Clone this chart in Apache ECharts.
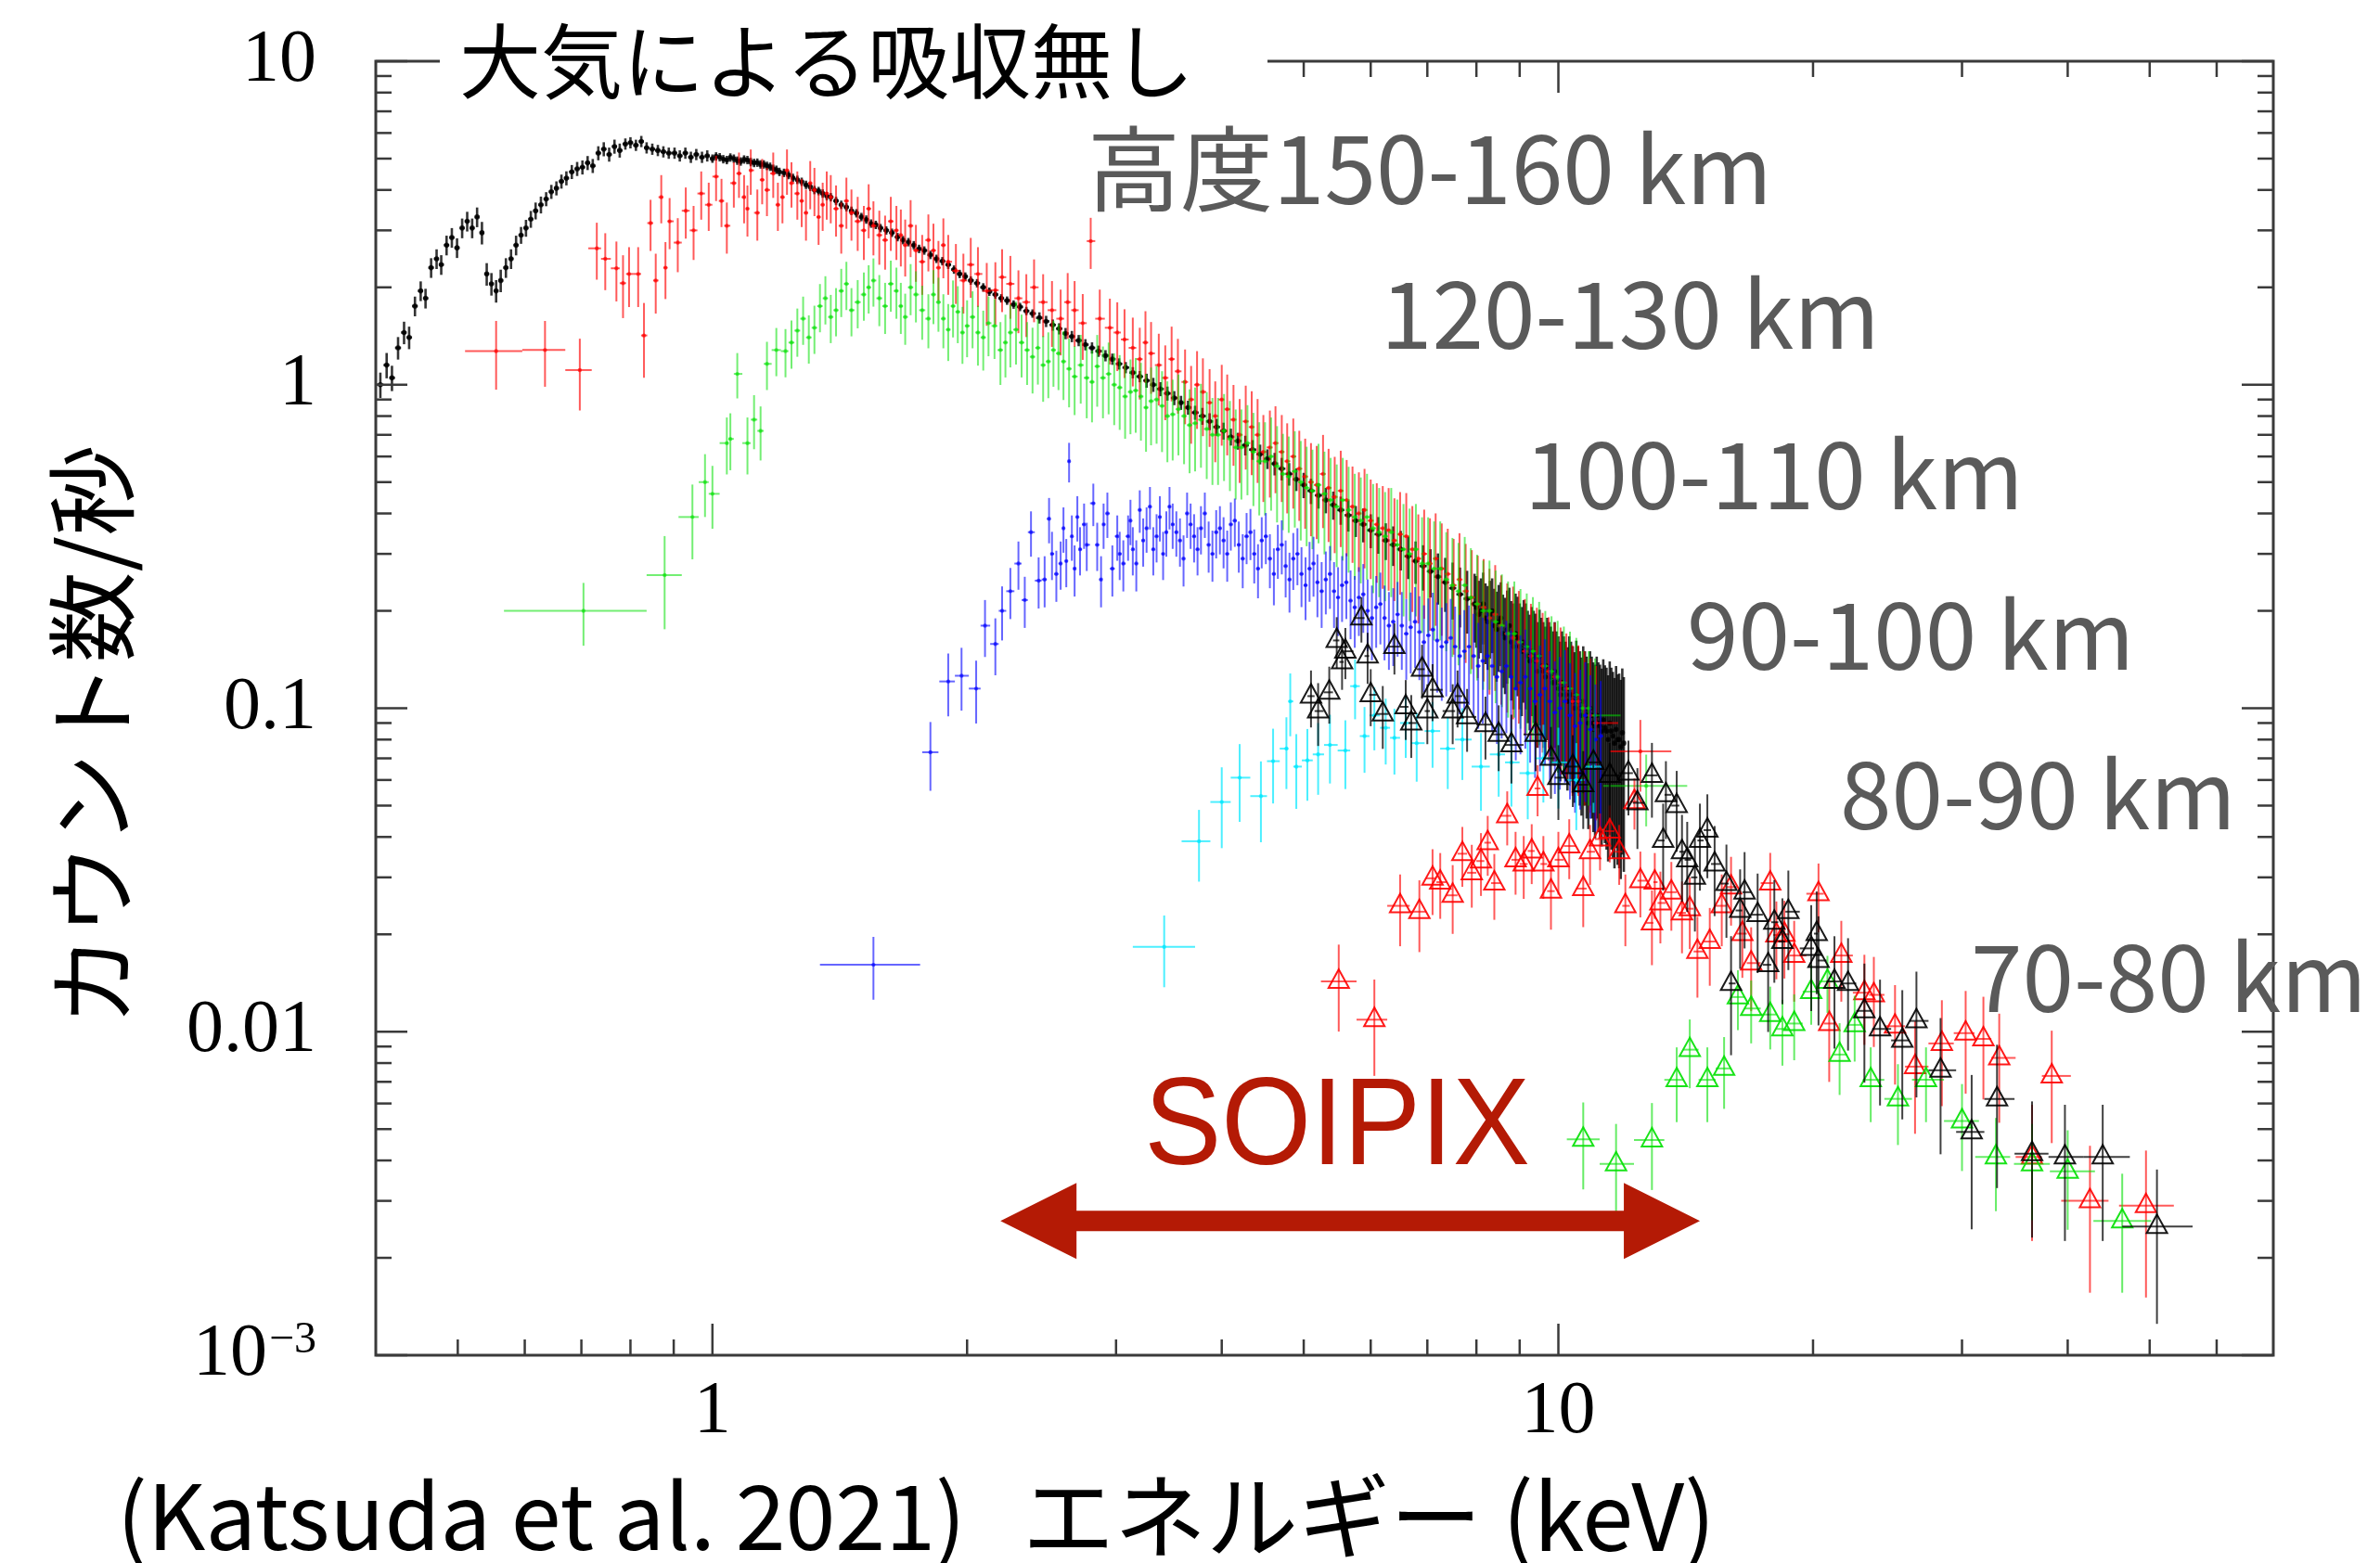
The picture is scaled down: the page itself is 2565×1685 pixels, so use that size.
<!DOCTYPE html>
<html><head><meta charset="utf-8">
<script src="https://cdn.jsdelivr.net/npm/echarts@6/dist/echarts.min.js"></script>
<style>html,body{margin:0;padding:0;background:#fff}#c{width:2565px;height:1685px}</style>
</head><body><div id="c"></div>
<script>
// ---------------- DATA: [energy keV, counts/s, error %] ----------------
// no atmospheric absorption (black crosses)
const noAbsLow = [[0.405,1.00,9],[0.412,1.15,9],[0.418,1.05,9],[0.425,1.30,8],[0.432,1.45,8],[0.438,1.40,8],[0.445,1.75,7],[0.452,1.95,7],[0.458,1.85,7],[0.465,2.30,7],[0.472,2.45,7],[0.478,2.35,7],[0.485,2.70,7],[0.492,2.85,7],[0.499,2.65,7],[0.506,3.05,7],[0.513,3.20,7],[0.520,3.05,7],[0.527,3.30,7],[0.534,2.95,8],[0.541,2.20,8],[0.548,2.05,8],[0.555,1.95,8],[0.562,2.10,8],[0.570,2.30,7],[0.578,2.45,7],[0.586,2.70,7],[0.594,2.90,6],[0.602,3.05,6],[0.610,3.25,6],[0.618,3.45,6],[0.627,3.60,6],[0.636,3.75,5],[0.645,3.95,5],[0.654,4.05,5],[0.663,4.25,5],[0.672,4.35,5],[0.682,4.55,5],[0.692,4.65,5],[0.702,4.70,5],[0.712,4.85,5],[0.722,4.75,5],[0.733,5.20,5],[0.744,5.35,5],[0.755,5.15,5],[0.766,5.45,5],[0.777,5.30,5],[0.789,5.55,4],[0.800,5.60,4],[0.812,5.50,4],[0.824,5.65,4],[0.836,5.40,4],[0.849,5.35,4],[0.862,5.30,4],[0.875,5.25,4],[0.888,5.20,4],[0.902,5.20,4],[0.915,5.10,4],[0.929,5.20,4],[0.943,5.05,4],[0.957,5.15,4],[0.972,5.05,4],[0.986,5.10,4]];
const noAbsMid = [[1.00,5.00,3],[1.01,5.08,3],[1.02,5.05,3],[1.03,4.98,3],[1.04,4.95,3],[1.05,5.04,3],[1.06,5.00,3],[1.07,4.93,3],[1.08,4.90,3],[1.09,4.97,3],[1.10,4.95,3],[1.11,4.88,3],[1.12,4.85,3],[1.13,4.86,3],[1.14,4.80,3],[1.15,4.80,3],[1.16,4.75,3],[1.17,4.72,3],[1.18,4.65,3],[1.19,4.62,3],[1.20,4.55,3],[1.215,4.52,3],[1.23,4.45,3],[1.245,4.36,3],[1.26,4.30,3],[1.275,4.24,3],[1.29,4.15,3],[1.305,4.09,3],[1.32,4.00,3],[1.335,3.97,3],[1.35,3.90,3],[1.365,3.83,3],[1.38,3.80,3],[1.40,3.70,3],[1.42,3.60,3],[1.44,3.54,3],[1.46,3.45,3],[1.48,3.39,3],[1.50,3.30,3],[1.52,3.24,3],[1.54,3.15,3],[1.56,3.12,3],[1.58,3.05,3],[1.605,3.00,3],[1.63,2.95,3],[1.655,2.86,3],[1.68,2.80,3],[1.705,2.76,3],[1.73,2.70,3],[1.755,2.63,3],[1.78,2.60,3],[1.81,2.52,3],[1.84,2.45,3],[1.87,2.41,3],[1.90,2.35,3],[1.93,2.27,3],[1.96,2.20,3],[1.99,2.16,3],[2.02,2.10,3],[2.055,2.06,3],[2.09,2.00,3],[2.125,1.94,3],[2.16,1.90,3],[2.195,1.85,3],[2.23,1.82,3],[2.27,1.77,3],[2.31,1.74,3],[2.35,1.69,3],[2.39,1.66,3],[2.435,1.61,4],[2.48,1.57,4],[2.525,1.53,4],[2.57,1.49,4],[2.615,1.44,4],[2.66,1.41,4],[2.71,1.37,4],[2.76,1.33,4],[2.81,1.30,4],[2.86,1.27,4],[2.915,1.23,4],[2.97,1.20,4],[3.025,1.16,4],[3.08,1.13,4],[3.14,1.09,4],[3.20,1.06,4],[3.26,1.03,5],[3.32,1.00,5],[3.385,0.97,5],[3.45,0.94,5],[3.515,0.91,5],[3.58,0.88,5],[3.65,0.85,5],[3.72,0.82,5],[3.795,0.80,6],[3.87,0.77,6],[3.945,0.74,6],[4.02,0.72,6],[4.10,0.69,6],[4.18,0.67,6],[4.265,0.65,7],[4.35,0.63,7],[4.44,0.61,7],[4.53,0.59,7],[4.62,0.57,8],[4.71,0.55,8],[4.805,0.53,8],[4.90,0.51,8],[5.00,0.49,9],[5.10,0.47,9],[5.205,0.455,9],[5.31,0.44,9],[5.42,0.425,10],[5.53,0.41,10],[5.645,0.395,11],[5.76,0.38,11],[5.88,0.37,12],[6.00,0.355,12],[6.125,0.345,13],[6.25,0.33,13],[6.38,0.32,14],[6.51,0.31,14],[6.645,0.295,15],[6.78,0.285,15],[6.92,0.275,16],[7.06,0.265,17],[7.205,0.255,18],[7.35,0.245,19],[7.50,0.235,20],[7.65,0.225,21],[7.80,0.218,22],[7.96,0.21,24]];
const noAbsHigh = [[8.00,0.205,25],[8.05,0.195,27],[8.10,0.20,26],[8.15,0.21,25],[8.20,0.19,28],[8.25,0.185,29],[8.30,0.195,27],[8.35,0.20,26],[8.40,0.18,30],[8.45,0.175,31],[8.50,0.185,30],[8.55,0.19,29],[8.60,0.17,32],[8.65,0.165,33],[8.70,0.175,32],[8.75,0.18,31],[8.80,0.16,34],[8.85,0.155,36],[8.90,0.17,33],[8.95,0.165,34],[9.00,0.155,36],[9.05,0.15,37],[9.10,0.16,35],[9.15,0.155,36],[9.20,0.145,38],[9.25,0.14,39],[9.30,0.15,37],[9.35,0.145,38],[9.40,0.14,40],[9.45,0.13,42],[9.50,0.145,39],[9.55,0.135,41],[9.60,0.13,42],[9.65,0.125,43],[9.70,0.135,41],[9.75,0.13,42],[9.80,0.125,43],[9.85,0.12,44],[9.90,0.13,42],[9.95,0.12,44],[10.0,0.115,45],[10.05,0.11,46],[10.1,0.12,44],[10.15,0.115,45],[10.2,0.11,46],[10.25,0.105,47],[10.3,0.115,45],[10.35,0.11,46],[10.4,0.105,48],[10.45,0.10,49],[10.5,0.11,47],[10.55,0.105,48],[10.6,0.10,50],[10.65,0.095,51],[10.7,0.105,48],[10.75,0.10,50],[10.8,0.095,52],[10.85,0.09,53],[10.9,0.10,50],[10.95,0.095,52],[11.0,0.09,54],[11.05,0.088,55],[11.1,0.095,52],[11.15,0.09,54],[11.2,0.088,55],[11.25,0.085,56],[11.3,0.092,54],[11.35,0.087,56],[11.4,0.085,57],[11.45,0.08,58],[11.5,0.09,55],[11.55,0.085,57],[11.6,0.082,58],[11.65,0.078,59],[11.7,0.086,57],[11.75,0.08,59],[11.8,0.08,60],[11.85,0.076,61],[11.9,0.084,58],[11.95,0.078,60]];

// 150-160 km (red crosses)
const alt150 = [[0.555,1.27,24],[0.634,1.28,23],[0.697,1.11,25],[0.730,2.64,20],[0.747,2.45,20],[0.770,2.29,21],[0.784,2.06,22],[0.797,2.20,21],[0.817,2.20,21],[0.830,1.42,26],[0.845,3.16,18],[0.857,2.10,21],[0.870,3.80,17],[0.880,2.30,20],[0.890,3.20,18],[0.910,2.75,19],[0.930,3.45,18],[0.950,3.00,19],[0.970,3.90,17],[0.990,3.60,17],[1.01,4.40,16],[1.04,3.10,18],[1.06,4.20,16],[1.09,3.80,17],[1.11,4.60,16],[1.13,3.40,18],[1.16,4.00,17],[1.18,4.50,16],[1.21,3.80,17],[1.24,4.20,16],[1.26,3.90,17],[1.29,3.40,18],[1.32,4.00,17],[1.35,3.60,17],[1.38,3.80,17],[1.42,3.10,18],[1.46,3.40,18],[1.51,3.00,19],[1.55,3.10,19],[1.60,2.80,19],[1.65,3.00,19],[1.69,2.70,20],[1.74,2.60,20],[1.80,2.80,20],[1.85,2.30,21],[1.90,2.40,21],[1.98,2.10,21],[2.06,2.20,21],[2.16,1.96,22],[2.25,2.05,22],[2.35,1.80,22],[2.46,1.80,22],[2.58,1.60,23],[2.68,1.70,23],[2.80,2.78,18],[2.95,1.50,23],[3.07,1.38,24],[3.20,1.20,25],[3.30,1.25,25],[3.43,1.05,26],[3.55,1.10,26],[3.68,0.90,27],[3.80,0.95,27],[3.93,0.80,28],[4.06,0.84,28],[4.20,0.70,29],[4.34,0.74,29],[4.48,0.62,30],[4.63,0.66,30],[4.78,0.58,31],[4.94,0.55,31],[5.10,0.50,32],[5.27,0.53,32],[5.44,0.45,33],[5.62,0.44,33],[5.81,0.40,34],[6.00,0.38,34],[6.20,0.36,35],[6.40,0.33,35],[6.61,0.34,36],[6.83,0.29,37],[7.05,0.28,38],[7.28,0.27,38],[7.52,0.24,39],[7.77,0.23,40],[8.03,0.21,41],[8.29,0.19,42],[8.56,0.18,43],[8.84,0.165,44],[9.13,0.15,45],[9.43,0.14,46],[9.74,0.13,47],[10.06,0.12,48],[10.39,0.105,49],[10.73,0.10,50],[11.08,0.09,50],[12.50,0.0736,25]];
const alt150More = [[1.025,3.70,17],[1.075,4.50,16],[1.10,3.50,18],[1.145,4.30,16],[1.195,3.60,17],[1.225,4.60,16],[1.275,3.70,17],[1.305,4.20,17],[1.335,3.30,18],[1.365,3.90,17],[1.40,3.50,18],[1.44,3.70,18],[1.485,3.20,19],[1.53,3.50,19],[1.575,2.90,19],[1.625,3.20,19],[1.67,2.90,20],[1.715,3.10,20],[1.77,2.40,21],[1.825,2.60,21],[1.875,2.70,21],[1.94,2.25,21],[2.02,2.35,21],[2.11,1.95,22],[2.20,2.15,22],[2.30,1.85,22],[2.40,2.00,22],[2.52,1.70,23],[2.63,1.80,23],[2.74,1.55,23],[2.87,1.60,23],[3.01,1.45,24],[3.14,1.30,24],[3.25,1.35,25],[3.37,1.15,25],[3.49,1.20,26],[3.62,1.02,26],[3.74,1.00,27],[3.87,0.88,27],[4.00,0.90,28],[4.13,0.78,28],[4.27,0.77,29],[4.41,0.70,29],[4.56,0.64,30],[4.71,0.62,30],[4.86,0.60,31],[5.02,0.52,31],[5.18,0.49,32],[5.35,0.48,32],[5.53,0.47,33],[5.71,0.42,33],[5.90,0.41,34],[6.10,0.37,34],[6.30,0.355,35],[6.50,0.345,35],[6.72,0.31,36],[6.94,0.30,37],[7.16,0.29,38],[7.40,0.26,38],[7.64,0.25,39],[7.90,0.22,40],[8.16,0.205,41],[8.42,0.195,42],[8.70,0.17,43],[8.98,0.16,44],[9.28,0.145,45],[9.58,0.135,46],[9.90,0.125,47],[10.22,0.115,48],[10.56,0.105,49],[10.90,0.095,50]];

// 120-130 km (green crosses)
const alt120 = [[0.704,0.20,22],[0.878,0.258,32],[0.947,0.39,26],[0.980,0.50,22],[1.00,0.46,22],[1.04,0.66,20],[1.05,0.68,20],[1.07,1.08,16],[1.10,0.66,20],[1.12,0.78,19],[1.14,0.72,19],[1.16,1.16,17],[1.19,1.28,17],[1.22,1.27,17],[1.26,1.47,17],[1.30,1.40,17],[1.34,1.75,17],[1.38,1.62,17],[1.42,1.95,17],[1.46,1.70,17],[1.51,1.90,17],[1.55,2.10,17],[1.60,1.75,18],[1.65,1.95,18],[1.69,1.62,18],[1.74,1.90,18],[1.80,1.60,19],[1.85,1.80,19],[1.90,1.48,20],[1.95,1.68,20],[2.00,1.52,20],[2.06,1.45,21],[2.12,1.55,21],[2.19,1.28,22],[2.25,1.45,22],[2.32,1.35,22],[2.39,1.22,23],[2.46,1.15,23],[2.53,1.28,23],[2.60,1.18,24],[2.68,1.06,24],[2.77,1.05,25],[2.85,1.14,25],[2.94,1.08,25],[3.03,0.98,26],[3.12,0.95,26],[3.21,0.92,27],[3.30,0.89,27],[3.40,0.86,28],[3.50,0.81,28],[3.61,0.80,29],[3.72,0.76,29],[3.84,0.73,30],[3.96,0.70,30],[4.09,0.68,31],[4.22,0.64,31],[4.36,0.62,32],[4.50,0.58,32],[4.65,0.56,33],[4.80,0.52,33],[4.96,0.50,34],[5.12,0.47,34],[5.29,0.46,35],[5.47,0.42,35],[5.65,0.41,36],[5.84,0.38,36],[6.04,0.36,37],[6.24,0.34,37],[6.45,0.32,38],[6.67,0.30,38],[6.90,0.28,39],[7.13,0.27,40],[7.37,0.25,40],[7.62,0.23,41],[7.88,0.22,42],[8.15,0.20,43],[8.43,0.185,44],[8.72,0.17,45],[9.02,0.16,46],[9.33,0.15,47],[9.65,0.135,48],[9.98,0.125,49],[10.32,0.115,50],[10.68,0.10,50],[11.05,0.095,50],[12.70,0.0575,25]];
const alt120More = [[1.24,1.35,17],[1.28,1.60,17],[1.32,1.50,17],[1.36,1.85,17],[1.40,1.70,17],[1.44,2.05,17],[1.485,1.80,17],[1.53,2.00,17],[1.575,1.85,18],[1.625,2.05,18],[1.67,1.75,18],[1.715,2.00,18],[1.77,1.70,19],[1.825,1.90,19],[1.875,1.60,19],[1.925,1.75,20],[1.975,1.45,20],[2.03,1.62,20],[2.09,1.40,21],[2.155,1.52,21],[2.22,1.35,22],[2.285,1.48,22],[2.355,1.28,22],[2.425,1.30,23],[2.495,1.18,23],[2.565,1.25,23],[2.64,1.12,24],[2.725,1.15,24],[2.81,1.02,25],[2.895,1.05,25],[2.985,1.00,25],[3.075,0.92,26],[3.165,0.96,26],[3.255,0.85,27],[3.35,0.90,27],[3.45,0.80,28],[3.555,0.84,28],[3.665,0.75,29],[3.78,0.78,29],[3.90,0.70,30],[4.025,0.72,30],[4.155,0.64,31],[4.29,0.66,31],[4.43,0.58,32],[4.575,0.60,32],[4.725,0.53,33],[4.88,0.54,33],[5.04,0.48,34],[5.205,0.49,34],[5.38,0.44,35],[5.56,0.44,35],[5.745,0.39,36],[5.94,0.39,36],[6.14,0.35,37],[6.345,0.35,37],[6.56,0.31,38],[6.785,0.31,38],[7.015,0.28,39],[7.25,0.27,40],[7.495,0.24,40],[7.75,0.24,41],[8.015,0.21,42],[8.29,0.20,43],[8.575,0.18,44],[8.87,0.17,45],[9.175,0.155,46],[9.49,0.145,47],[9.815,0.13,48],[10.15,0.12,49],[10.5,0.11,50],[10.86,0.10,50]];

// 100-110 km (blue crosses)
const alt100 = [[1.55,0.0161,22],[1.81,0.0731,24],[1.90,0.121,22],[1.97,0.126,22],[2.05,0.115,22],[2.10,0.180,20],[2.16,0.158,20],[2.20,0.200,19],[2.25,0.230,18],[2.30,0.280,17],[2.34,0.216,18],[2.38,0.350,16],[2.43,0.248,18],[2.47,0.250,18],[2.50,0.385,16],[2.55,0.260,18],[2.58,0.280,17],[2.62,0.285,17],[2.64,0.580,14],[2.66,0.340,16],[2.70,0.390,16],[2.72,0.310,17],[2.77,0.320,17],[2.82,0.430,15],[2.88,0.250,18],[2.90,0.370,16],[2.97,0.270,18],[3.01,0.340,16],[3.06,0.280,18],[3.10,0.340,16],[3.14,0.310,17],[3.20,0.410,15],[3.26,0.360,16],[3.32,0.310,17],[3.38,0.390,16],[3.44,0.350,16],[3.50,0.370,16],[3.57,0.330,17],[3.64,0.400,16],[3.71,0.340,17],[3.78,0.360,17],[3.86,0.320,18],[3.94,0.350,17],[4.02,0.330,18],[4.10,0.370,17],[4.19,0.320,18],[4.28,0.340,18],[4.37,0.300,19],[4.46,0.330,18],[4.56,0.290,19],[4.66,0.310,19],[4.76,0.275,20],[4.86,0.290,20],[4.97,0.260,21],[5.08,0.270,21],[5.19,0.245,22],[5.31,0.250,22],[5.43,0.230,23],[5.55,0.240,23],[5.68,0.215,24],[5.81,0.220,24],[5.95,0.200,25],[6.09,0.205,25],[6.23,0.190,26],[6.38,0.185,27],[6.53,0.180,27],[6.69,0.178,28],[6.85,0.172,29],[7.02,0.168,30],[7.19,0.162,31],[7.37,0.160,32],[7.55,0.155,33],[7.74,0.150,34],[7.94,0.145,35],[8.14,0.140,36],[8.35,0.135,37],[8.57,0.130,38],[8.79,0.125,39],[9.02,0.120,40],[9.26,0.115,41],[9.51,0.110,42],[9.77,0.105,43],[10.04,0.100,44],[10.32,0.095,45],[10.61,0.090,46],[10.91,0.086,47],[11.22,0.082,48]];
const alt100More = [[2.52,0.30,17],[2.60,0.36,16],[2.68,0.27,18],[2.75,0.37,16],[2.85,0.32,17],[2.93,0.40,16],[3.03,0.30,17],[3.12,0.38,16],[3.17,0.28,18],[3.23,0.33,17],[3.29,0.42,15],[3.35,0.34,17],[3.41,0.30,17],[3.47,0.42,15],[3.535,0.35,16],[3.605,0.29,18],[3.675,0.37,16],[3.745,0.31,17],[3.82,0.40,16],[3.90,0.30,18],[3.98,0.36,17],[4.06,0.30,18],[4.145,0.38,17],[4.235,0.29,19],[4.325,0.35,18],[4.415,0.27,19],[4.51,0.34,18],[4.61,0.26,20],[4.71,0.32,19],[4.81,0.25,21],[4.915,0.30,20],[5.025,0.24,22],[5.135,0.28,21],[5.25,0.23,23],[5.37,0.26,22],[5.49,0.22,24],[5.615,0.245,23],[5.745,0.205,25],[5.88,0.225,24],[6.02,0.19,26],[6.16,0.21,25],[6.305,0.18,27],[6.455,0.195,26],[6.61,0.17,28],[6.77,0.185,28],[6.935,0.16,30],[7.105,0.175,30],[7.28,0.155,32],[7.46,0.165,32],[7.645,0.145,34],[7.84,0.155,34],[8.04,0.135,36],[8.245,0.145,36],[8.46,0.125,38],[8.68,0.135,38],[8.905,0.115,40],[9.14,0.125,40],[9.385,0.105,42],[9.64,0.115,42],[9.905,0.097,44],[10.18,0.105,44],[10.465,0.088,46],[10.76,0.095,46],[11.06,0.08,48]];

// 90-100 km (cyan crosses)
const alt90 = [[3.42,0.0183,25],[3.76,0.0388,25],[4.00,0.0513,28],[4.20,0.0610,27],[4.45,0.0535,28],[4.60,0.0686,26],[4.77,0.0750,25],[4.82,0.105,22],[4.90,0.0660,26],[5.05,0.0690,25],[5.20,0.0720,25],[5.37,0.0770,24],[5.60,0.0740,24],[5.75,0.117,21],[5.90,0.082,23],[6.06,0.095,22],[6.25,0.087,23],[6.40,0.081,23],[6.60,0.090,22],[6.80,0.078,24],[7.10,0.085,23],[7.40,0.075,25],[7.70,0.080,25],[8.10,0.066,27],[8.50,0.072,26],[8.80,0.068,27],[9.20,0.063,28],[9.60,0.070,27],[10.0,0.068,28],[10.5,0.060,30],[11.0,0.066,28]];

// 80-90 km (black triangles)
const alt80 = [[5.10,0.109,20],[5.20,0.098,22],[5.36,0.112,20],[5.47,0.162,18],[5.55,0.139,18],[5.60,0.150,18],[5.85,0.190,16],[5.95,0.145,18],[6.00,0.110,20],[6.20,0.096,22],[6.40,0.155,18],[6.60,0.101,21],[6.70,0.090,22],[6.90,0.132,19],[7.00,0.098,21],[7.10,0.114,20],[7.50,0.098,21],[7.60,0.109,20],[7.80,0.094,22],[8.20,0.089,22],[8.50,0.083,23],[8.80,0.077,24],[9.40,0.083,23],[9.80,0.070,25],[10.0,0.061,26],[10.4,0.066,25],[10.7,0.058,27],[11.0,0.068,25],[11.5,0.062,26],[12.1,0.063,26],[12.4,0.051,28],[12.9,0.062,26],[13.3,0.039,30],[13.4,0.054,27],[13.8,0.050,28],[14.0,0.036,30],[14.2,0.034,31],[14.5,0.030,32],[14.7,0.039,30],[15.0,0.042,29],[15.3,0.033,31],[15.8,0.0287,32],[16.0,0.0141,40],[16.4,0.0237,34],[16.6,0.027,33],[17.2,0.023,34],[17.7,0.0161,38],[18.0,0.0218,35],[18.4,0.019,36],[18.7,0.0235,34],[19.9,0.0181,36],[20.2,0.0201,35],[20.3,0.0166,37],[21.2,0.0143,38],[22.0,0.0141,38],[23.0,0.0116,40],[24.0,0.0102,42],[25.5,0.0094,43],[26.5,0.0108,42],[28.3,0.0076,45],[30.8,0.0049,50],[33.0,0.0062,47],[36.3,0.0042,45],[39.7,0.0041,45],[44.0,0.0041,45],[51.0,0.0025,50]];

// 70-80 km (red triangles)
const alt70 = [[5.50,0.0143,30],[6.06,0.0109,33],[6.50,0.0245,25],[6.85,0.0235,25],[7.10,0.0298,23],[7.25,0.0290,23],[7.50,0.0264,24],[7.70,0.0355,21],[7.90,0.0310,22],[8.10,0.0337,22],[8.25,0.0384,21],[8.40,0.0288,23],[8.70,0.0465,19],[8.90,0.0340,22],[9.10,0.0330,22],[9.30,0.0362,21],[9.45,0.0565,18],[9.60,0.0330,22],[9.80,0.0272,24],[10.0,0.0340,22],[10.3,0.0375,21],[10.7,0.0277,24],[10.9,0.0360,21],[11.2,0.0394,20],[11.5,0.0417,20],[11.8,0.0360,21],[12.0,0.0245,25],[12.3,0.0514,18],[12.5,0.0293,23],[12.9,0.0217,26],[13.0,0.0290,23],[13.2,0.0250,25],[13.6,0.0270,24],[14.0,0.0233,25],[14.3,0.0240,25],[14.6,0.0177,28],[15.1,0.0190,27],[15.6,0.0245,25],[16.0,0.0280,24],[16.5,0.0201,27],[16.9,0.0163,29],[17.8,0.0288,24],[18.1,0.0199,27],[18.5,0.0200,27],[19.0,0.0172,28],[20.3,0.0267,24],[20.9,0.0106,34],[21.6,0.0172,28],[23.0,0.0132,31],[23.6,0.0130,31],[25.0,0.0104,34],[26.4,0.0078,38],[28.4,0.0092,36],[30.3,0.0099,35],[31.8,0.0095,35],[33.2,0.0083,37],[36.3,0.0041,45],[38.3,0.0073,38],[42.5,0.0030,48],[49.5,0.0029,48]];

// lowest layer (green triangles)
const greenTri = [[10.7,0.00465,30],[11.7,0.0039,33],[12.9,0.00463,30],[13.8,0.0071,26],[14.3,0.0088,24],[15.0,0.0071,26],[15.7,0.0077,25],[16.3,0.0128,21],[16.9,0.0118,22],[17.8,0.0113,22],[18.4,0.0102,23],[19.0,0.0106,23],[19.9,0.0133,21],[20.8,0.0143,20],[21.5,0.0085,25],[22.4,0.0105,23],[23.4,0.0071,26],[25.2,0.0062,28],[27.2,0.0071,26],[30.0,0.0053,30],[32.9,0.0041,32],[36.3,0.0039,33],[40.0,0.0037,34],[46.4,0.0026,40]];

// explicit energy bins (keV) for the isolated wide-bin points
const alt150Bins = {0.555:[0.51,0.596], 0.634:[0.596,0.67], 0.697:[0.67,0.72], 12.5:[11.5,13.6]};
const alt120Bins = {0.704:[0.567,0.836], 0.878:[0.836,0.92], 12.7:[11.3,14.2]};
const alt100Bins = {1.55:[1.34,1.76], 1.81:[1.77,1.85]};
const alt90Bins = {3.42:[3.14,3.72]};
const alt80Bins = {51:[46.4,56.2]};
const alt70Bins = {42.5:[39.3,44.7], 49.5:[46,53.4]};
const greenTriBins = {32.9:[31.1,34.2], 46.4:[42.9,50.2]};

// axis ticks / labels
const xMajorTicks = [1, 10];
const xMinorTicks = [0.5,0.6,0.7,0.8,0.9,2,3,4,5,6,7,8,9,20,30,40,50,60];
const xTickLabels = ['1', '10'];
const yMajorTicks = [0.001, 0.01, 0.1, 1, 10];
const yMinorTicks = [0.002,0.003,0.004,0.005,0.006,0.007,0.008,0.009,0.02,0.03,0.04,0.05,0.06,0.07,0.08,0.09,0.2,0.3,0.4,0.5,0.6,0.7,0.8,0.9,2,3,4,5,6,7,8,9];
const yTickLabels = ['10{sup|\u22123}', '0.01', '0.1', '1', '10'];

// annotations
const soipixRange = [2.19, 14.7];
const soipixLevel = 0.0026;
const titleText = '大気による吸収無し';
const altitudeLabels = ['高度150-160 km', '120-130 km', '100-110 km', '90-100 km', '80-90 km', '70-80 km'];
const xAxisTitle = 'エネルギー (keV)';
const creditText = '(Katsuda et al. 2021)';
const yAxisTitle = 'カウント数/秒';
const soipixText = 'SOIPIX';

// ---------------- build ----------------
function merged() {
  const all = [];
  for (let i = 0; i < arguments.length; i++) all.push.apply(all, arguments[i]);
  return all.sort((a, b) => a[0] - b[0]);
}

function buildItems(points, bins) {
  const out = [];
  for (let i = 0; i < points.length; i++) {
    const e = points[i][0], c = points[i][1], pct = points[i][2];
    let lo, hi;
    const b = bins && bins[e];
    if (b) { lo = b[0]; hi = b[1]; }
    else {
      const prev = i > 0 ? points[i - 1][0] : null;
      const next = i < points.length - 1 ? points[i + 1][0] : null;
      hi = next ? Math.sqrt(e * next) : e * e / Math.sqrt(prev * e);
      lo = prev ? Math.sqrt(prev * e) : e * e / Math.sqrt(e * next);
    }
    const d = c * pct / 100;
    out.push([e, c, lo, hi, c - d, c + d]);
  }
  return out;
}

function errSeries(name, points, bins, color, marker, opacity, lw, dot) {
  return {
    type: 'custom', name: name, clip: true, silent: true,
    dimensions: ['e', 'c', 'elo', 'ehi', 'clo', 'chi'],
    encode: { x: 0, y: 1 },
    data: buildItems(points, bins),
    renderItem: function (params, api) {
      const e = api.value(0), c = api.value(1);
      const p = api.coord([e, c]);
      const l = api.coord([api.value(2), c]);
      const r = api.coord([api.value(3), c]);
      const lo = api.coord([e, api.value(4)]);
      const hi = api.coord([e, api.value(5)]);
      const ch = [
        { type: 'line', shape: { x1: l[0], y1: p[1], x2: r[0], y2: p[1] }, style: { stroke: color, lineWidth: lw, opacity: opacity } },
        { type: 'line', shape: { x1: p[0], y1: lo[1], x2: p[0], y2: hi[1] }, style: { stroke: color, lineWidth: lw, opacity: opacity } }
      ];
      if (marker === 'tri') {
        ch.push({ type: 'polygon', shape: { points: [[p[0], p[1] - 13], [p[0] - 11, p[1] + 7], [p[0] + 11, p[1] + 7]] }, style: { fill: 'none', stroke: color, lineWidth: 2, opacity: 0.9 } });
      } else {
        ch.push({ type: 'circle', shape: { cx: p[0], cy: p[1], r: dot }, style: { fill: color, opacity: opacity } });
      }
      return { type: 'group', children: ch };
    }
  };
}

const TICK = '#3a3a3a';
function tickSeries(values, major, isX) {
  return {
    type: 'custom', silent: true, clip: false, z: 5,
    encode: { x: 0, y: 1 },
    data: values.map(v => isX ? [v, 1] : [1, v]),
    renderItem: function (params, api) {
      const cs = params.coordSys;
      const len = major ? 34 : 17;
      const st = { stroke: TICK, lineWidth: 2.5 };
      if (isX) {
        const x = api.coord([api.value(0), 1])[0];
        return { type: 'group', children: [
          { type: 'line', shape: { x1: x, y1: cs.y + cs.height, x2: x, y2: cs.y + cs.height - len }, style: st },
          { type: 'line', shape: { x1: x, y1: cs.y, x2: x, y2: cs.y + len }, style: st }
        ] };
      }
      const y = api.coord([1, api.value(1)])[1];
      return { type: 'group', children: [
        { type: 'line', shape: { x1: cs.x, y1: y, x2: cs.x + len, y2: y }, style: st },
        { type: 'line', shape: { x1: cs.x + cs.width, y1: y, x2: cs.x + cs.width - len, y2: y }, style: st }
      ] };
    }
  };
}

const arrowSeries = {
  type: 'custom', silent: true, clip: false, z: 6,
  encode: { x: 0, y: 2 },
  data: [[soipixRange[0], soipixRange[1], soipixLevel]],
  renderItem: function (params, api) {
    const a = api.coord([api.value(0), api.value(2)]);
    const b = api.coord([api.value(1), api.value(2)]);
    const y = a[1], hl = 82, hh = 41, sh = 11;
    return { type: 'polygon', shape: { points: [
      [a[0], y], [a[0] + hl, y - hh], [a[0] + hl, y - sh], [b[0] - hl, y - sh], [b[0] - hl, y - hh], [b[0], y],
      [b[0] - hl, y + hh], [b[0] - hl, y + sh], [a[0] + hl, y + sh], [a[0] + hl, y + hh]
    ] }, style: { fill: '#b41a05' } };
  }
};

function isPow(v, target) { return Math.abs(Math.log10(v) - Math.log10(target)) < 1e-6; }

const SERIF = '"Liberation Serif", "Times New Roman", serif';
const SANS = '"Noto Sans CJK JP", "Noto Sans", sans-serif';
function label(text, x, y, size, fill, align) {
  return { type: 'text', z: 51, x: x, y: y, style: { text: text, font: size + 'px ' + SANS, fill: fill, align: align, verticalAlign: 'middle', textAlign: align, textVerticalAlign: 'middle' } };
}

const option = {
  animation: false,
  backgroundColor: '#ffffff',
  grid: { left: 405, top: 66, width: 2045, height: 1395, show: true, borderColor: '#3a3a3a', borderWidth: 3, backgroundColor: 'transparent' },
  xAxis: {
    type: 'log', logBase: 10, min: 0.4, max: 70,
    axisLine: { show: false }, axisTick: { show: false }, splitLine: { show: false },
    axisLabel: {
      margin: 22, fontFamily: SERIF, fontSize: 80, color: '#000',
      formatter: function (v) {
        for (let i = 0; i < xMajorTicks.length; i++) if (isPow(v, xMajorTicks[i])) return xTickLabels[i];
        return '';
      }
    }
  },
  yAxis: {
    type: 'log', logBase: 10, min: 0.001, max: 10,
    axisLine: { show: false }, axisTick: { show: false }, splitLine: { show: false },
    axisLabel: {
      margin: 64, fontFamily: SERIF, fontSize: 80, color: '#000',
      rich: { sup: { fontFamily: SERIF, fontSize: 48, color: '#000', verticalAlign: 'top', padding: [0, 0, 0, 2] } },
      formatter: function (v) {
        for (let i = 0; i < yMajorTicks.length; i++) if (isPow(v, yMajorTicks[i])) return yTickLabels[i];
        return '';
      }
    }
  },
  series: [
    errSeries('no absorption', merged(noAbsLow, noAbsMid, noAbsHigh), null, '#000000', 'dot', 0.8, 2.6, 2.8),
    errSeries('150-160 km', merged(alt150, alt150More), alt150Bins, '#ff0000', 'dot', 0.65, 2, 2.2),
    errSeries('120-130 km', merged(alt120, alt120More), alt120Bins, '#00e000', 'dot', 0.55, 2, 2.2),
    errSeries('100-110 km', merged(alt100, alt100More), alt100Bins, '#0000ff', 'dot', 0.6, 2, 2.2),
    errSeries('90-100 km', alt90, alt90Bins, '#00e8ff', 'dot', 0.7, 2, 2.2),
    errSeries('70-80 km', alt70, alt70Bins, '#ff0000', 'tri', 0.65, 2, 2.2),
    errSeries('lowest', greenTri, greenTriBins, '#00e000', 'tri', 0.6, 2, 2.2),
    errSeries('80-90 km', alt80, alt80Bins, '#000000', 'tri', 0.75, 2, 2.2),
    tickSeries(xMajorTicks, true, true),
    tickSeries(xMinorTicks, false, true),
    tickSeries(yMajorTicks, true, false),
    tickSeries(yMinorTicks, false, false),
    arrowSeries
  ],
  graphic: [
    { type: 'rect', z: 50, shape: { x: 474, y: 28, width: 892, height: 80 }, style: { fill: '#ffffff' } },
    label(titleText, 891, 66, 88, '#000', 'center'),
    label(altitudeLabels[0], 1172, 182, 100, '#5a5a5a', 'left'),
    label(altitudeLabels[1], 1488, 338, 100, '#5a5a5a', 'left'),
    label(altitudeLabels[2], 1643, 511, 100, '#5a5a5a', 'left'),
    label(altitudeLabels[3], 1818, 684, 100, '#5a5a5a', 'left'),
    label(altitudeLabels[4], 1983, 856, 100, '#5a5a5a', 'left'),
    label(altitudeLabels[5], 2124, 1053, 100, '#5a5a5a', 'left'),
    { type: 'text', z: 51, x: 1441, y: 1218, scaleX: 0.93, style: { text: soipixText, font: '134px "Liberation Sans", Arial, sans-serif', fill: '#b41a05', align: 'center', verticalAlign: 'middle', textAlign: 'center', textVerticalAlign: 'middle' } },
    label(xAxisTitle, 1102, 1634, 99, '#000', 'left'),
    label(creditText, 126, 1634, 97, '#000', 'left'),
    { type: 'text', z: 51, x: 99, y: 793, rotation: Math.PI / 2, style: { text: yAxisTitle, font: '98px ' + SANS, fill: '#000', align: 'center', verticalAlign: 'middle', textAlign: 'center', textVerticalAlign: 'middle' } }
  ]
};

const chart = echarts.init(document.getElementById('c'), null, { renderer: 'canvas', width: 2565, height: 1685 });
chart.setOption(option);
</script></body></html>
